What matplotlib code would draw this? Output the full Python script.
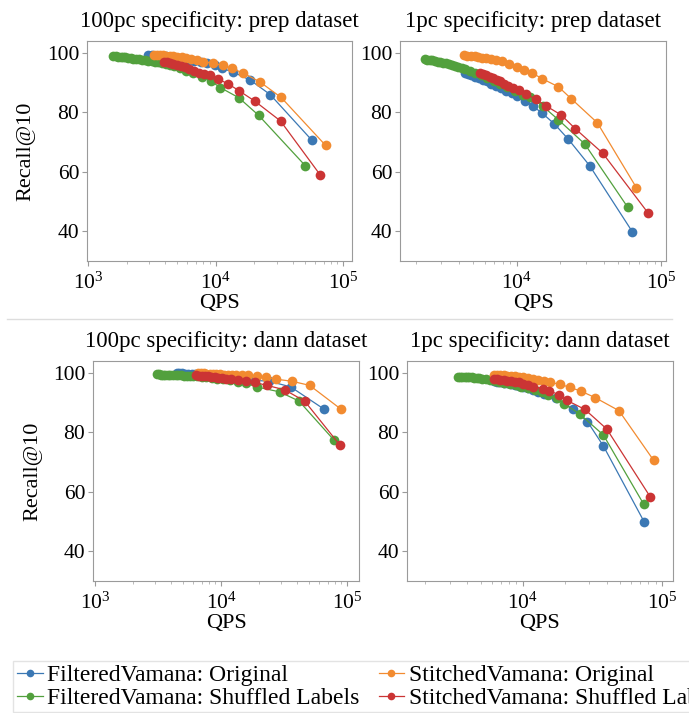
import matplotlib
matplotlib.use("Agg")
import matplotlib.pyplot as plt
from matplotlib.lines import Line2D

plt.rcParams['font.family'] = ['Liberation Serif', 'DejaVu Serif']
plt.rcParams['mathtext.fontset'] = 'custom'
plt.rcParams['mathtext.rm'] = 'Liberation Serif'
plt.rcParams['mathtext.it'] = 'Liberation Serif:italic'

# series names and colours
labels = ['FilteredVamana: Original', 'FilteredVamana: Shuffled Labels',
          'StitchedVamana: Original', 'StitchedVamana: Shuffled Labels']
colors = ['#3b78b4', '#52a03d', '#f28b30', '#cb3434']

titles = ['100pc specificity: prep dataset', '1pc specificity: prep dataset',
          '100pc specificity: dann dataset', '1pc specificity: dann dataset']

# ---- 100pc prep ----
p100_fv_qps = [2960, 3150, 3350, 3550, 3800, 4050, 4350, 4700, 5100, 5550, 6100, 6800, 7600, 8600, 9800, 11200, 13600, 18700, 26700, 56500]
p100_fv_rec = [99.3, 99.2, 99.1, 99.0, 98.9, 98.8, 98.6, 98.4, 98.2, 97.9, 97.6, 97.3, 96.9, 96.5, 96.0, 94.8, 93.6, 90.8, 86.0, 70.7]
p100_fvs_qps = [1580, 1650, 1720, 1800, 1880, 1960, 2050, 2150, 2260, 2380, 2510, 2650, 2800, 2960, 3140, 3340, 3560, 3800, 4070, 4370, 4700, 5240, 5900, 6650, 7760, 9180, 10900, 15200, 21700, 50500]
p100_fvs_rec = [98.9, 98.85, 98.75, 98.65, 98.55, 98.45, 98.35, 98.25, 98.1, 98.0, 97.85, 97.7, 97.55, 97.4, 97.25, 97.1, 96.9, 96.65, 96.35, 96.0, 95.6, 94.8, 94.0, 93.1, 92.0, 90.5, 88.3, 84.9, 79.0, 62.0]
p100_sv_qps = [3280, 3450, 3650, 3850, 4100, 4350, 4650, 5000, 5400, 5850, 6400, 7100, 8000, 9550, 11400, 13300, 16300, 22100, 32600, 72600]
p100_sv_rec = [99.4, 99.35, 99.3, 99.2, 99.1, 99.0, 98.9, 98.7, 98.5, 98.3, 98.0, 97.6, 97.1, 96.5, 95.8, 94.8, 93.3, 90.3, 85.0, 68.9]
p100_svs_qps = [3950, 4150, 4400, 4650, 4950, 5300, 5700, 6150, 6700, 7350, 8100, 8980, 10400, 12500, 15200, 20200, 32200, 65800]
p100_svs_rec = [97.1, 96.9, 96.6, 96.3, 96.0, 95.6, 95.1, 94.6, 94.0, 93.4, 92.9, 92.5, 91.2, 89.6, 87.3, 83.8, 77.1, 59.0]

# ---- 1pc prep ----
p1_fv_qps = [4370, 4600, 4850, 5150, 5450, 5800, 6200, 6650, 7150, 7750, 8400, 9200, 10100, 11400, 12900, 15000, 18200, 22700, 31900, 63000]
p1_fv_rec = [93.3, 92.9, 92.5, 92.0, 91.5, 91.0, 90.4, 89.7, 89.0, 88.2, 87.3, 86.4, 85.4, 83.9, 82.1, 79.7, 76.1, 71.0, 62.1, 39.9]
p1_fvs_qps = [2310, 2400, 2500, 2600, 2700, 2820, 2950, 3080, 3220, 3380, 3550, 3730, 3930, 4150, 4400, 4700, 5150, 5650, 6250, 6900, 7700, 8600, 9700, 11000, 12400, 15100, 19400, 29500, 58600]
p1_fvs_rec = [97.9, 97.75, 97.6, 97.45, 97.3, 97.1, 96.9, 96.7, 96.5, 96.25, 96.0, 95.7, 95.4, 95.0, 94.6, 94.0, 93.3, 92.5, 91.6, 90.6, 89.6, 88.4, 87.2, 86.0, 85.0, 82.1, 77.5, 69.4, 48.1]
p1_sv_qps = [4300, 4550, 4800, 5100, 5400, 5750, 6150, 6600, 7150, 7870, 8800, 10000, 11200, 12800, 15000, 19400, 23800, 36100, 67300]
p1_sv_rec = [99.2, 99.1, 99.0, 98.8, 98.6, 98.4, 98.2, 97.9, 97.6, 97.3, 96.4, 95.4, 94.4, 93.2, 91.3, 88.6, 84.6, 76.5, 54.7]
p1_svs_qps = [5560, 5850, 6150, 6500, 6850, 7250, 7700, 8200, 8750, 9450, 10300, 11600, 13600, 15900, 20300, 25400, 39300, 80700]
p1_svs_rec = [93.3, 92.9, 92.5, 92.0, 91.5, 91.0, 90.4, 89.7, 89.0, 88.3, 87.5, 86.1, 84.4, 82.2, 79.1, 74.5, 66.3, 46.3]

# ---- 100pc dann ----
d100_fv_qps = [4430, 4650, 4900, 5200, 5500, 5850, 6250, 6700, 7200, 7800, 8500, 9300, 10300, 11500, 13000, 15000, 18000, 24000, 35600, 65500]
d100_fv_rec = [99.9, 99.85, 99.8, 99.75, 99.7, 99.6, 99.5, 99.4, 99.3, 99.2, 99.0, 98.8, 98.6, 98.3, 98.0, 97.8, 97.5, 97.2, 95.3, 87.8]
d100_fvs_qps = [3080, 3200, 3330, 3470, 3620, 3780, 3950, 4150, 4350, 4570, 4800, 5050, 5350, 5650, 5950, 6450, 7000, 7650, 8400, 9300, 10400, 11800, 13500, 15800, 19100, 29200, 41500, 78500]
d100_fvs_rec = [99.5, 99.47, 99.44, 99.41, 99.38, 99.35, 99.31, 99.27, 99.23, 99.19, 99.15, 99.1, 99.05, 99.0, 98.9, 98.8, 98.7, 98.5, 98.3, 98.1, 97.8, 97.5, 97.1, 96.5, 95.3, 93.6, 90.5, 77.4]
d100_sv_qps = [6580, 6900, 7250, 7650, 8100, 8600, 9150, 9800, 10500, 11300, 12200, 13200, 14700, 16400, 19100, 22600, 27100, 36300, 50400, 89800]
d100_sv_rec = [99.9, 99.85, 99.8, 99.75, 99.7, 99.6, 99.55, 99.5, 99.4, 99.35, 99.3, 99.25, 99.2, 99.2, 99.0, 98.5, 97.9, 97.2, 95.8, 87.7]
d100_svs_qps = [6310, 6650, 7000, 7400, 7850, 8350, 8900, 9500, 10200, 11000, 12000, 13700, 15700, 18500, 23100, 31900, 46000, 87100]
d100_svs_rec = [99.2, 99.1, 99.0, 98.9, 98.8, 98.65, 98.5, 98.35, 98.2, 98.0, 97.8, 97.5, 97.3, 96.8, 95.8, 94.3, 90.5, 75.8]

# ---- 1pc dann ----
d1_fv_qps = [6230, 6550, 6900, 7300, 7750, 8250, 8800, 9400, 10100, 10900, 11800, 12900, 14300, 17300, 23100, 29200, 38000, 74700]
d1_fv_rec = [97.3, 97.1, 96.9, 96.7, 96.5, 96.2, 95.9, 95.6, 95.2, 94.8, 94.3, 93.7, 93.0, 91.4, 87.7, 83.6, 75.4, 49.8]
d1_fvs_qps = [3440, 3560, 3690, 3830, 3980, 4140, 4310, 4490, 4680, 4890, 5100, 5450, 5850, 6300, 6800, 7400, 8100, 8900, 9800, 10900, 12200, 13700, 15200, 17600, 19900, 25800, 38000, 73800]
d1_fvs_rec = [98.7, 98.67, 98.64, 98.6, 98.55, 98.5, 98.45, 98.38, 98.3, 98.2, 98.1, 97.9, 97.7, 97.4, 97.1, 96.7, 96.3, 95.9, 95.4, 94.9, 94.2, 93.5, 92.6, 91.4, 89.6, 86.1, 79.1, 55.9]
d1_sv_qps = [6230, 6550, 6900, 7300, 7750, 8250, 8800, 9400, 10100, 10900, 11800, 12900, 14200, 15700, 18500, 21900, 26100, 33100, 49100, 87100]
d1_sv_rec = [99.4, 99.35, 99.3, 99.2, 99.1, 99.0, 98.85, 98.7, 98.5, 98.3, 98.0, 97.7, 97.3, 96.8, 96.2, 95.1, 93.9, 91.7, 87.3, 70.6]
d1_svs_qps = [6230, 6550, 6900, 7300, 7750, 8250, 8800, 9400, 10100, 10900, 11900, 13900, 15500, 18100, 20700, 28000, 40200, 82400]
d1_svs_rec = [97.9, 97.8, 97.7, 97.6, 97.4, 97.2, 97.0, 96.8, 96.3, 95.9, 95.4, 94.7, 94.0, 92.7, 90.8, 87.7, 81.1, 58.3]

panels = [
    [(p100_fv_qps, p100_fv_rec), (p100_fvs_qps, p100_fvs_rec), (p100_sv_qps, p100_sv_rec), (p100_svs_qps, p100_svs_rec)],
    [(p1_fv_qps, p1_fv_rec), (p1_fvs_qps, p1_fvs_rec), (p1_sv_qps, p1_sv_rec), (p1_svs_qps, p1_svs_rec)],
    [(d100_fv_qps, d100_fv_rec), (d100_fvs_qps, d100_fvs_rec), (d100_sv_qps, d100_sv_rec), (d100_svs_qps, d100_svs_rec)],
    [(d1_fv_qps, d1_fv_rec), (d1_fvs_qps, d1_fvs_rec), (d1_sv_qps, d1_sv_rec), (d1_svs_qps, d1_svs_rec)],
]

W, H = 689, 713
fig = plt.figure(figsize=(W / 100, H / 100), dpi=100)

# axes boxes in pixels: left, right, top, bottom
boxes = [(87, 352, 41, 261), (400, 666, 41, 261), (93, 359, 361, 581), (407, 673, 361, 581)]
xlims = [(980, 1.17e5), (1550, 1.08e5), (964, 1.24e5), (1480, 1.2e5)]

for i, (l, r, t, b) in enumerate(boxes):
    ax = fig.add_axes([l / W, 1 - b / H, (r - l) / W, (b - t) / H])
    for (q, rec), c in zip(panels[i], colors):
        ax.plot(q, rec, color=c, marker='o', markersize=7, markeredgewidth=0,
                linewidth=0.9)
    ax.set_xscale('log')
    ax.set_xlim(*xlims[i])
    ax.set_ylim(30, 104)
    ax.set_yticks([40, 60, 80, 100])
    ax.set_title(titles[i], fontsize=16.5, pad=10)
    ax.set_xlabel('QPS', fontsize=16, labelpad=0)
    if i % 2 == 0:
        ax.set_ylabel('Recall@10', fontsize=16, labelpad=8)
    for s in ax.spines.values():
        s.set_color('#9a9a9a')
    ax.tick_params(axis='y', which='major', labelsize=15.5, color='#9a9a9a',
                   length=3.5, width=0.8, pad=2)
    ax.tick_params(axis='x', which='major', labelsize=15.5, color='#9a9a9a',
                   length=3.5, width=0.8, pad=5)
    ax.tick_params(axis='x', which='minor', color='#b0b0b0', length=2, width=0.6)

# thin separator between the two rows
fig.add_artist(Line2D([7 / W, 672 / W], [1 - 319 / H, 1 - 319 / H],
                      color='#dddddd', linewidth=1))

handles = [Line2D([], [], color=c, marker='o', markersize=5.5, markeredgewidth=0,
                  linewidth=0.9) for c in colors]
fig.legend(handles, labels, loc='upper left', bbox_to_anchor=(13 / W, 1 - 661 / H),
           ncol=2, fontsize=17, frameon=True, fancybox=False, edgecolor='#dddddd',
           handlelength=1.1, handletextpad=0.2, columnspacing=0.8,
           labelspacing=0.05, borderpad=0.15, borderaxespad=0)

fig.savefig('out.png', dpi=100)
